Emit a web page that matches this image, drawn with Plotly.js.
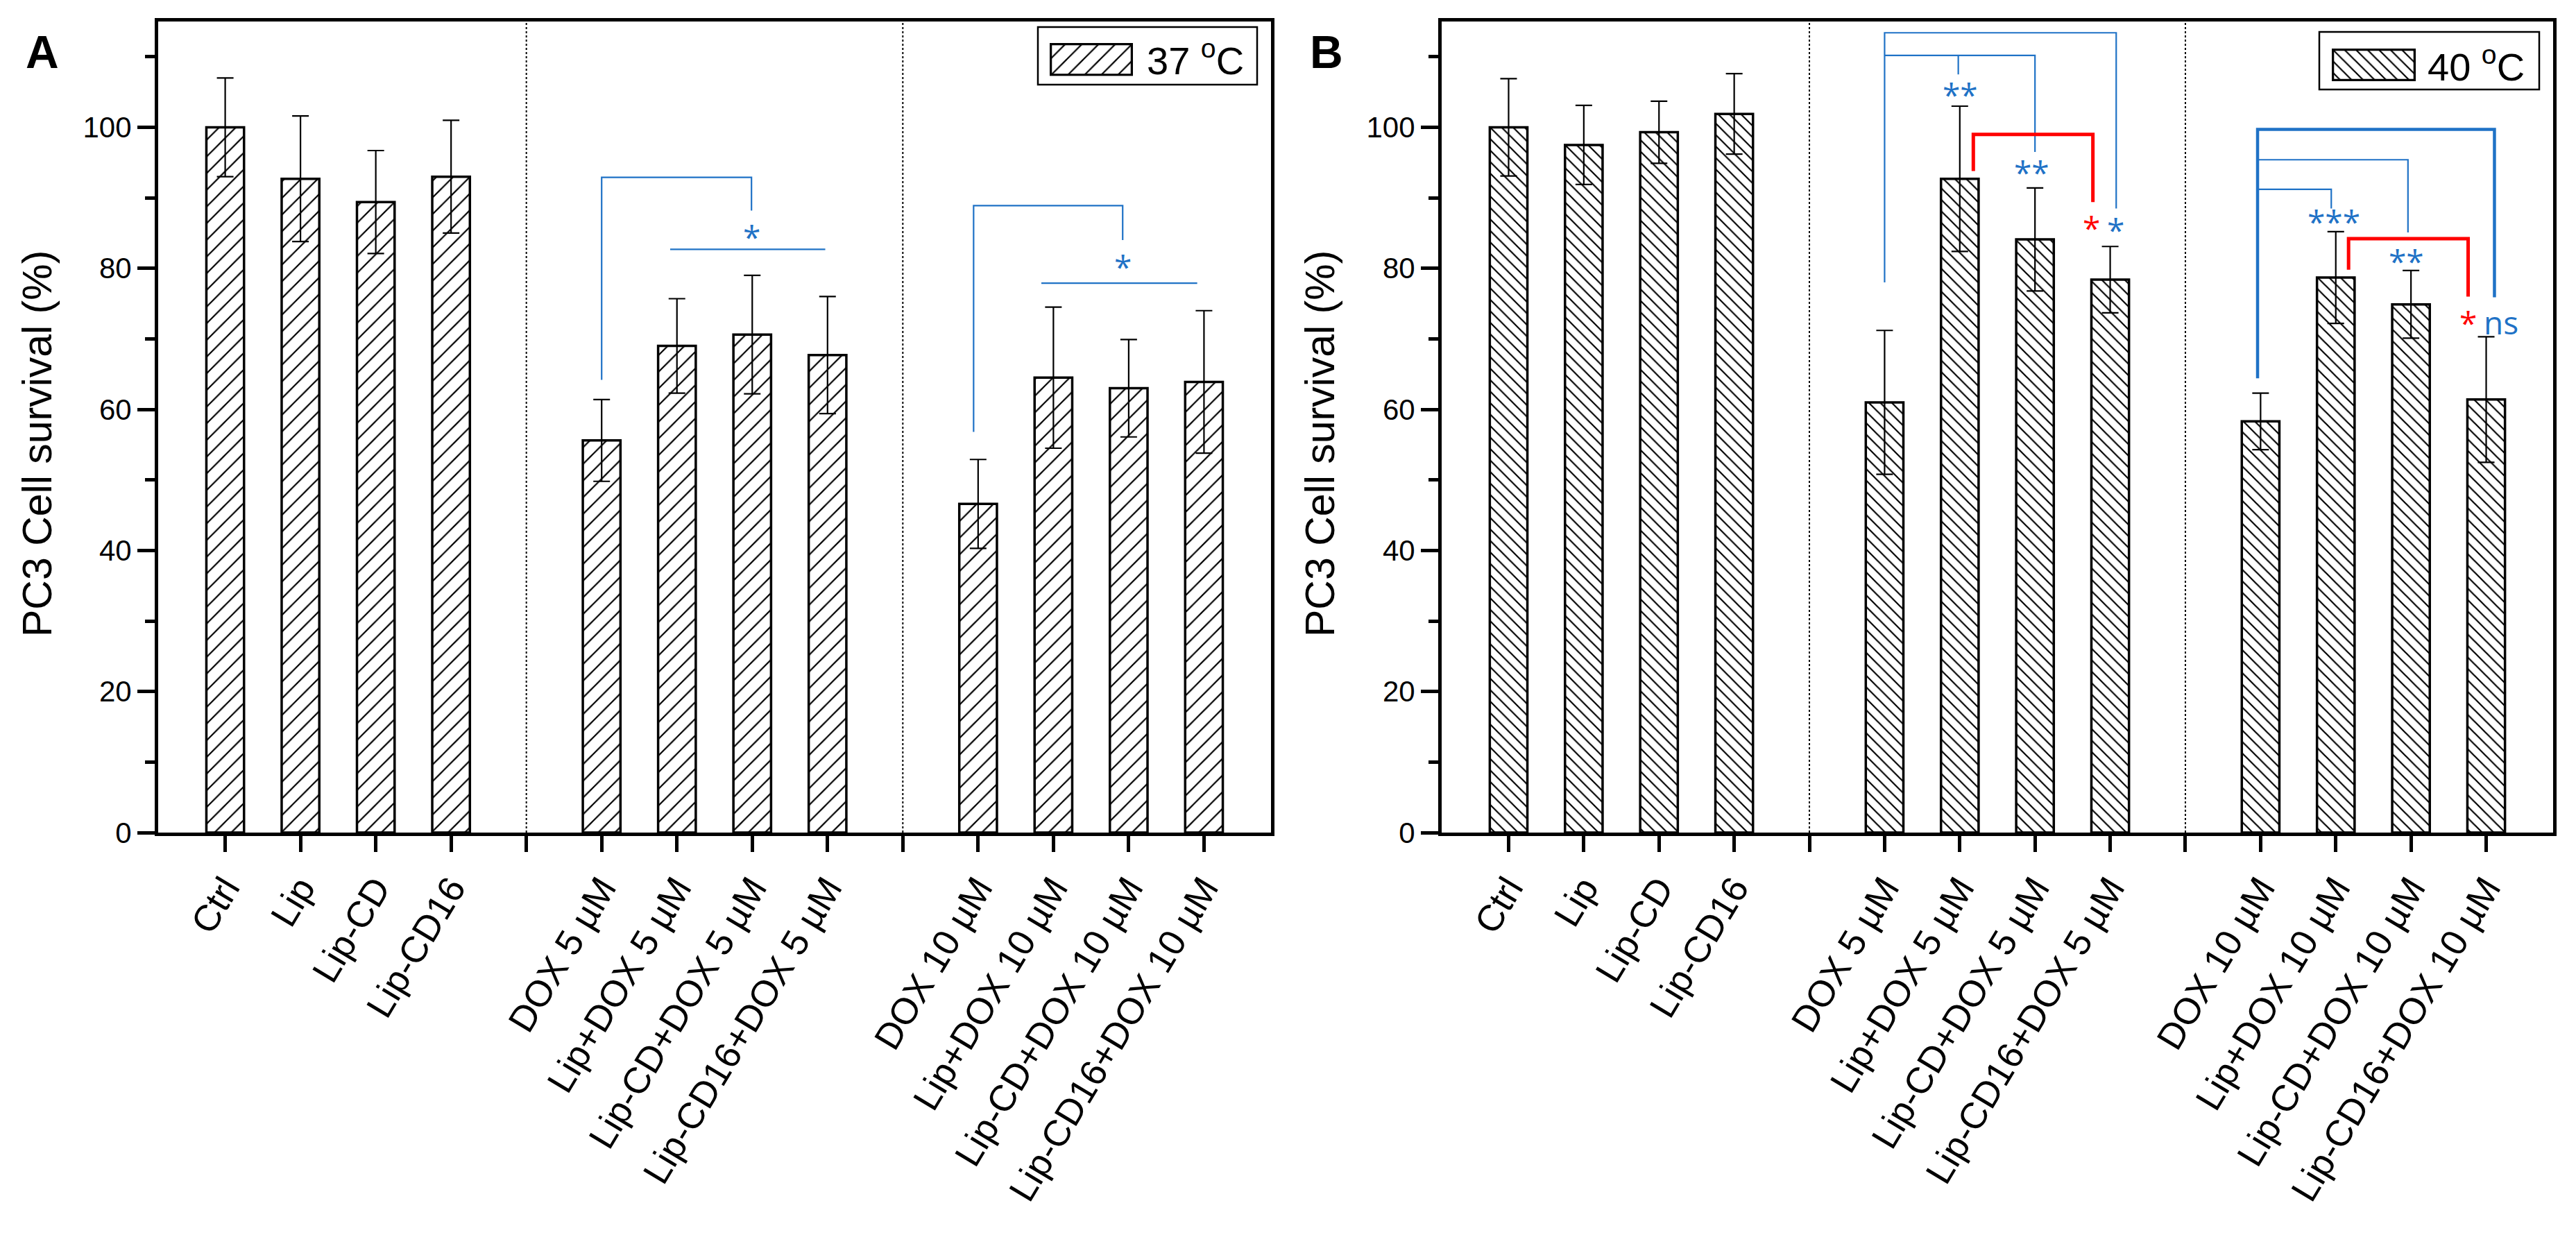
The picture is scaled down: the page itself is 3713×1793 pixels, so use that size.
<!DOCTYPE html>
<html><head><meta charset="utf-8">
<script src="https://cdn.plot.ly/plotly-3.0.1.min.js"></script>
<style>html,body{margin:0;padding:0;background:#fff}#chart{width:3713px;height:1793px}</style>
</head><body><div id="chart"></div>
<script>
// ---------- data ----------
const slotOrder = ['Ctrl','Lip','Lip-CD','Lip-CD16','',
  'DOX 5 µM','Lip+DOX 5 µM','Lip-CD+DOX 5 µM','Lip-CD16+DOX 5 µM','',
  'DOX 10 µM','Lip+DOX 10 µM','Lip-CD+DOX 10 µM','Lip-CD16+DOX 10 µM'];
const categories = slotOrder.filter(s => s !== '');
const survival37 = [100, 92.7, 89.4, 93.0, 55.6, 69.0, 70.6, 67.7, 46.6, 64.5, 63.0, 63.9];
const sd37       = [7.0, 8.9, 7.3, 8.0, 5.8, 6.7, 8.4, 8.3, 6.3, 10.0, 6.9, 10.1];
const survival40 = [100, 97.5, 99.3, 101.9, 61.0, 92.7, 84.1, 78.4, 58.3, 78.7, 74.9, 61.4];
const sd40       = [6.9, 5.6, 4.4, 5.7, 10.2, 10.3, 7.3, 4.7, 4.0, 6.5, 4.8, 8.9];
const yTicks = [0, 20, 40, 60, 80, 100];
const yMinorTicks = [10, 30, 50, 70, 90, 110];
const legendA = '37 <sup>o</sup>C';
const legendB = '40 <sup>o</sup>C';
const yTitle = 'PC3 Cell survival (%)';

// significance marks (decoration): polylines in [slot, value]
const BLUE = '#1f72c6', RED = '#ff0000';
const bracketsA = [
  {pts:[[5,64.2],[5,92.9],[6.99,92.9],[6.99,88.2]], c:BLUE, w:2.2},
  {pts:[[5.91,82.7],[7.97,82.7]], c:BLUE, w:2.2},
  {pts:[[9.94,56.8],[9.94,88.9],[11.92,88.9],[11.92,84.0]], c:BLUE, w:2.2},
  {pts:[[10.84,77.9],[12.91,77.9]], c:BLUE, w:2.2}
];
const marksA = [
  {x:6.99, y:84.5, t:'*', c:BLUE},
  {x:11.92, y:80.3, t:'*', c:BLUE}
];
const bracketsB = [
  {pts:[[5,78.0],[5,113.4],[8.08,113.4],[8.08,88.5]], c:BLUE, w:2.2},
  {pts:[[5,110.2],[7.0,110.2],[7.0,96.5]], c:BLUE, w:2.2},
  {pts:[[5.98,110.2],[5.98,107.5]], c:BLUE, w:2.2},
  {pts:[[6.18,93.8],[6.18,99.0],[7.77,99.0],[7.77,89.4]], c:RED, w:5},
  {pts:[[9.96,64.4],[9.96,99.7],[13.11,99.7],[13.11,75.9]], c:BLUE, w:4.5},
  {pts:[[9.96,95.4],[11.96,95.4],[11.96,85.1]], c:BLUE, w:2.2},
  {pts:[[9.96,91.2],[10.94,91.2],[10.94,88.5]], c:BLUE, w:2.2},
  {pts:[[11.17,79.8],[11.17,84.2],[12.76,84.2],[12.76,76.0]], c:RED, w:5}
];
const marksB = [
  {x:6.01, y:104.7, t:'**', c:BLUE},
  {x:6.96, y:93.7, t:'**', c:BLUE},
  {x:7.75, y:85.8, t:'*', c:RED},
  {x:8.07, y:85.5, t:'*', c:BLUE},
  {x:10.97, y:86.7, t:'***', c:BLUE},
  {x:11.94, y:81.1, t:'**', c:BLUE},
  {x:12.76, y:72.3, t:'*', c:RED},
  {x:13.2, y:72.4, t:'ns', c:BLUE}
];

// ---------- geometry ----------
const W = 3713, H = 1793;
const px = v => v / W;
const py = v => 1 - v / H;
const FONT = 'Liberation Sans, Arial, sans-serif';
const SIGFONT = 'Open Sans, DejaVu Sans, sans-serif';
const xPos = categories.map(c => slotOrder.indexOf(c));
const tickPos = slotOrder.map((_, i) => i);

function barTrace(vals, errs, xa, ya, shape, size, solidity) {
  return {
    type: 'bar', x: xPos, y: vals, xaxis: xa, yaxis: ya, width: 0.5,
    marker: {color: '#fff', line: {color: '#000', width: 3.5},
      pattern: {shape: shape, fgcolor: '#000', bgcolor: '#fff', size: size, solidity: solidity}},
    error_y: {type: 'data', array: errs, visible: true, color: '#000', thickness: 2.2, width: 12},
    hoverinfo: 'skip'
  };
}
function swatchTrace(xa, ya, shape, size, solidity) {
  return {
    type: 'bar', x: [0], y: [1], width: [1], xaxis: xa, yaxis: ya,
    marker: {color: '#fff', line: {color: '#000', width: 3.5},
      pattern: {shape: shape, fgcolor: '#000', bgcolor: '#fff', size: size, solidity: solidity}},
    hoverinfo: 'skip'
  };
}

const data = [
  barTrace(survival37, sd37, 'x', 'y', '/', 17, 0.13),
  barTrace(survival40, sd40, 'x2', 'y2', '\\', 11.7, 0.19),
  swatchTrace('x3', 'y3', '/', 17, 0.13),
  swatchTrace('x4', 'y4', '\\', 11.7, 0.19)
];

const yDom = [py(1200), py(31)];
function xAxis(dom, anchor) {
  return {
    domain: dom, anchor: anchor, range: [-0.89, 13.89], tickmode: 'array', tickvals: tickPos, ticktext: slotOrder,
    ticks: 'outside', ticklen: 23, tickwidth: 5, tickcolor: '#000',
    showline: true, linewidth: 5, linecolor: '#000', mirror: true,
    showgrid: false, zeroline: false, tickangle: -59,
    tickfont: {family: FONT, size: 53, color: '#000'}, fixedrange: true
  };
}
function yAxis(anchor) {
  return {
    domain: yDom, range: [0, 115], anchor: anchor, tickmode: 'array', tickvals: yTicks,
    ticks: 'outside', ticklen: 25, tickwidth: 5, tickcolor: '#000',
    minor: {tickmode: 'array', tickvals: yMinorTicks, ticks: 'outside', ticklen: 14, tickwidth: 5, tickcolor: '#000'},
    showline: true, linewidth: 5, linecolor: '#000', mirror: true,
    showgrid: false, zeroline: false,
    tickfont: {family: FONT, size: 42, color: '#000'}, fixedrange: true
  };
}
function hidden(dom, range, anchor) {
  return {domain: dom, range: range, visible: false, fixedrange: true, anchor: anchor};
}

const shapes = [];
function addBrackets(list, xr, yr) {
  list.forEach(b => {
    const d = b.pts.map((p, i) => (i ? 'L' : 'M') + p[0] + ',' + p[1]).join(' ');
    shapes.push({type: 'path', xref: xr, yref: yr, path: d, line: {color: b.c, width: b.w}, layer: 'above'});
  });
}
addBrackets(bracketsA, 'x', 'y');
addBrackets(bracketsB, 'x2', 'y2');
// dotted group separators
slotOrder.forEach((s, i) => {
  if (s !== '') return;
  [['x', 'y domain'], ['x2', 'y2 domain']].forEach(r => {
    shapes.push({type: 'line', xref: r[0], yref: r[1], x0: i, x1: i, y0: 0, y1: 1,
      line: {color: '#000', width: 2, dash: 'dot'}, layer: 'below'});
  });
});
// legend boxes
shapes.push({type: 'rect', xref: 'paper', yref: 'paper', x0: px(1496), x1: px(1812), y0: py(122), y1: py(39), line: {color: '#000', width: 2.5}});
shapes.push({type: 'rect', xref: 'paper', yref: 'paper', x0: px(3343), x1: px(3660), y0: py(129), y1: py(46), line: {color: '#000', width: 2.5}});

const annotations = [];
function addMarks(list, xr, yr) {
  list.forEach(m => {
    annotations.push({xref: xr, yref: yr, x: m.x, y: m.y, text: m.t, showarrow: false,
      xanchor: 'center', yanchor: 'middle',
      font: {family: SIGFONT, size: 46, color: m.c}});
  });
}
addMarks(marksA, 'x', 'y');
addMarks(marksB, 'x2', 'y2');
// panel letters
annotations.push({xref: 'paper', yref: 'paper', x: px(61), y: py(75), text: '<b>A</b>', showarrow: false, xanchor: 'center', yanchor: 'middle', font: {family: FONT, size: 66, color: '#000'}});
annotations.push({xref: 'paper', yref: 'paper', x: px(1912), y: py(75), text: '<b>B</b>', showarrow: false, xanchor: 'center', yanchor: 'middle', font: {family: FONT, size: 66, color: '#000'}});
// y titles
[54, 1903].forEach(xc => {
  annotations.push({xref: 'paper', yref: 'paper', x: px(xc), y: py(640), text: yTitle, textangle: -90,
    showarrow: false, xanchor: 'center', yanchor: 'middle', font: {family: FONT, size: 59, color: '#000'}});
});
// legend texts
annotations.push({xref: 'paper', yref: 'paper', x: px(1651), y: py(84), text: legendA, showarrow: false, xanchor: 'left', yanchor: 'middle', font: {family: FONT, size: 56, color: '#000'}});
annotations.push({xref: 'paper', yref: 'paper', x: px(3497), y: py(92), text: legendB, showarrow: false, xanchor: 'left', yanchor: 'middle', font: {family: FONT, size: 56, color: '#000'}});

const layout = {
  width: W, height: H, autosize: false, showlegend: false,
  margin: {l: 0, r: 0, t: 0, b: 0, pad: 0},
  paper_bgcolor: '#fff', plot_bgcolor: '#fff', bargap: 0,
  xaxis: xAxis([px(228), px(1832)], 'y'), yaxis: yAxis('x'),
  xaxis2: xAxis([px(2078), px(3680)], 'y2'), yaxis2: yAxis('x2'),
  xaxis3: hidden([px(1513), px(1633)], [-0.513, 0.513], 'y3'),
  yaxis3: hidden([py(109.5), py(62)], [-0.032, 1.032], 'x3'),
  xaxis4: hidden([px(3361), px(3482)], [-0.513, 0.513], 'y4'),
  yaxis4: hidden([py(117), py(70)], [-0.032, 1.032], 'x4'),
  shapes: shapes, annotations: annotations
};

Plotly.newPlot('chart', data, layout, {staticPlot: true, displayModeBar: false});
</script></body></html>
